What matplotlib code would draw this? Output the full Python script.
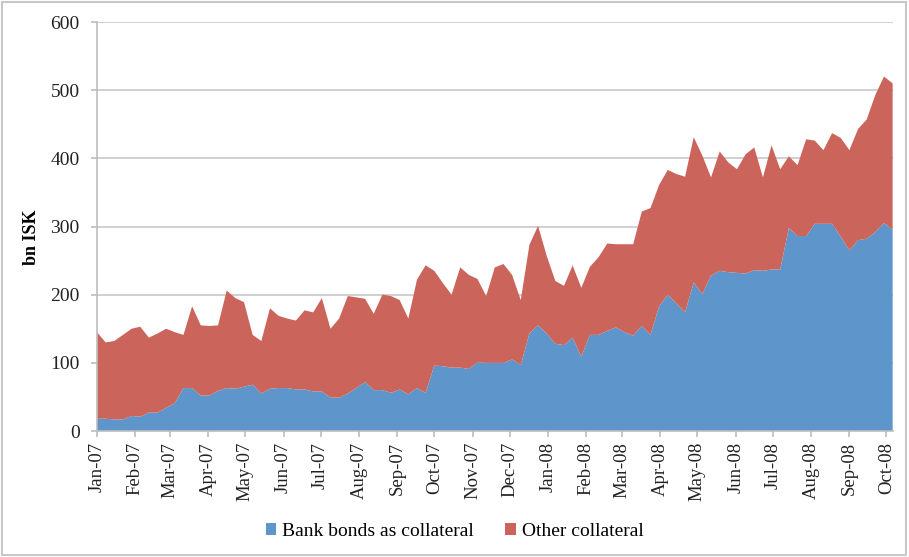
import matplotlib
matplotlib.use('Agg')
import matplotlib.pyplot as plt
import matplotlib.dates as mdates
import matplotlib.patches as patches
import pandas as pd

# weekly observations, Jan 2007 - Oct 2008 (bn ISK)
weeks = pd.date_range('2007-01-01', periods=93, freq='7D')

bank_bonds = [18, 18, 17, 17, 22, 21, 27, 27, 34, 41,
              63, 63, 52, 52, 59, 63, 62, 65, 68, 55,
              62, 63, 63, 61, 61, 58, 58, 49, 49, 55,
              63, 72, 60, 60, 56, 61, 54, 63, 56, 96,
              95, 93, 93, 91, 101, 100, 100, 100, 105, 97,
              143, 155, 143, 128, 126, 137, 109, 141, 141, 147,
              152, 145, 140, 154, 141, 183, 200, 187, 174, 218,
              201, 228, 235, 233, 232, 231, 236, 235, 237, 237,
              298, 286, 286, 304, 304, 304, 285, 265, 280, 282,
              292, 305, 296]

other_collateral = [127, 112, 115, 124, 128, 132, 110, 116, 116, 104,
                    78, 120, 103, 102, 96, 143, 133, 124, 73, 77,
                    118, 106, 102, 101, 116, 116, 137, 101, 116, 143,
                    133, 122, 112, 140, 142, 131, 111, 159, 187, 139,
                    122, 107, 147, 138, 122, 98, 140, 145, 124, 95,
                    130, 146, 114, 92, 87, 106, 101, 100, 114, 128,
                    122, 129, 134, 168, 186, 178, 183, 190, 199, 213,
                    203, 144, 175, 161, 152, 175, 180, 137, 182, 147,
                    105, 104, 142, 122, 108, 133, 145, 147, 163, 175,
                    201, 215, 214]

series_names = ['Bank bonds as collateral', 'Other collateral']
colors = ['#5E95CA', '#CB645B']

plt.rcParams['font.family'] = ['Liberation Serif', 'DejaVu Serif']

fig = plt.figure(figsize=(9.09, 5.57), dpi=100)
ax = fig.add_axes([0.1067, 0.2262, 0.8753, 0.7343])

ax.stackplot(weeks, bank_bonds, other_collateral, colors=colors,
             labels=series_names, linewidth=0)

ax.set_ylim(0, 600)
ax.set_yticks(range(0, 601, 100))
ax.set_xlim(weeks[0], weeks[-1])
ax.yaxis.grid(True, color='#C8C8C8', linewidth=1.2)
ax.set_axisbelow(True)

ax.xaxis.set_major_locator(mdates.MonthLocator())
ax.xaxis.set_major_formatter(mdates.DateFormatter('%b-%y'))
plt.setp(ax.get_xticklabels(), rotation=90)

for side in ['top', 'right']:
    ax.spines[side].set_visible(False)
for side in ['left', 'bottom']:
    ax.spines[side].set_color('#BDBDBD')
    ax.spines[side].set_linewidth(1.2)

ax.tick_params(axis='both', colors='#BDBDBD', length=4.5, width=1.2,
               labelcolor='#222222')
ax.tick_params(axis='y', pad=8, labelsize=14)
ax.tick_params(axis='x', pad=3.5, labelsize=13.5)

ax.set_ylabel('bn ISK', fontsize=13, fontweight='bold')
ax.yaxis.set_label_coords(-0.072, 0.474)

handles, labels = ax.get_legend_handles_labels()
fig.legend(handles, labels, loc='center', bbox_to_anchor=(0.5, 0.046),
           ncol=2, frameon=False, fontsize=14, handlelength=0.55,
           handleheight=0.55, handletextpad=0.3, columnspacing=1.6)

# light frame round the chart
fig.patches.append(patches.Rectangle((0.002, 0.004), 0.995, 0.992,
                                     transform=fig.transFigure, fill=False,
                                     edgecolor='#C8C8C8', linewidth=1.5))

fig.savefig('out.png', dpi=100)
